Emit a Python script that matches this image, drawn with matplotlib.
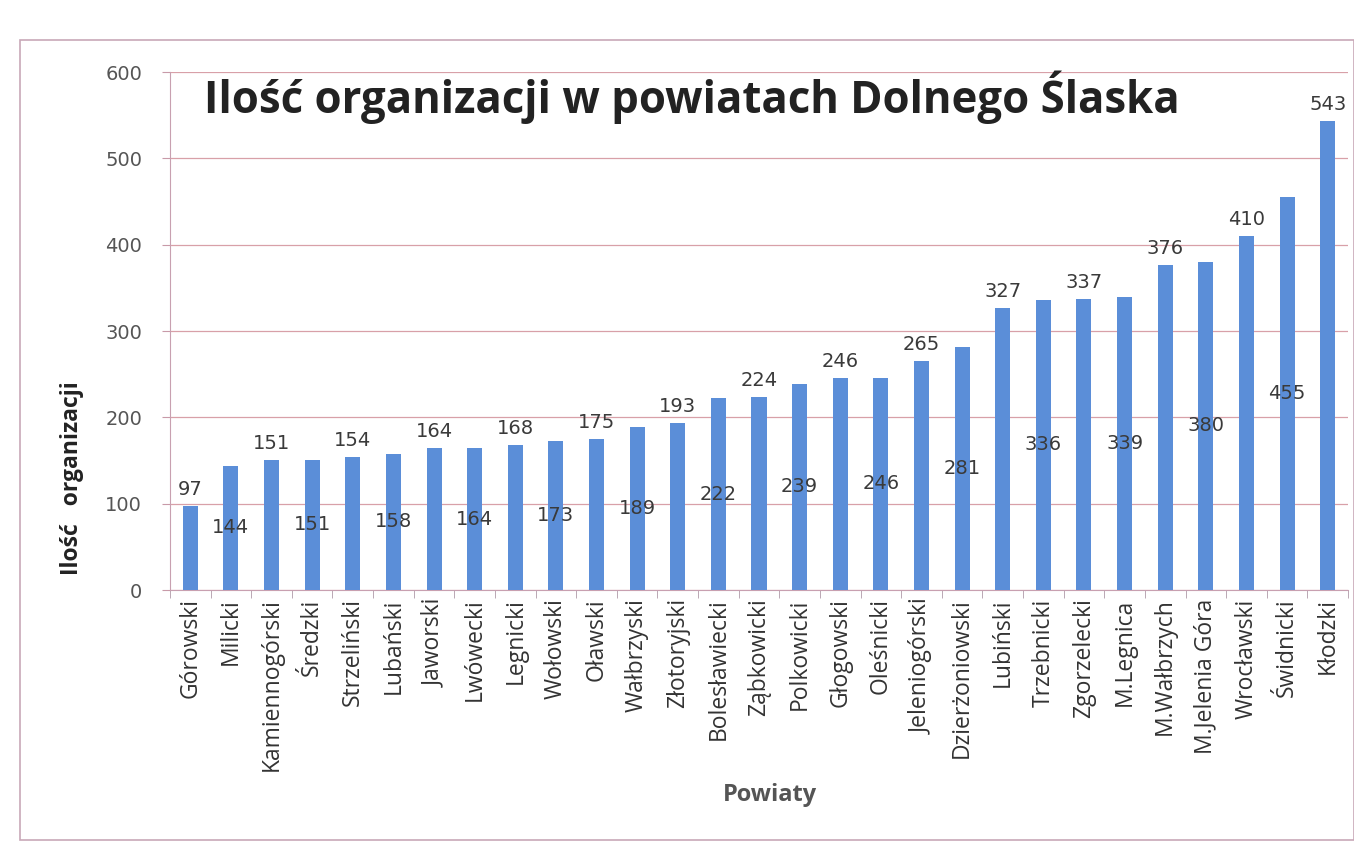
import matplotlib

matplotlib.use("Agg")
import matplotlib.pyplot as plt
from matplotlib.patches import Rectangle

powiaty = [
    "Górowski", "Milicki", "Kamiennogórski", "Średzki", "Strzeliński",
    "Lubański", "Jaworski", "Lwówecki", "Legnicki", "Wołowski", "Oławski",
    "Wałbrzyski", "Złotoryjski", "Bolesławiecki", "Ząbkowicki", "Polkowicki",
    "Głogowski", "Oleśnicki", "Jeleniogórski", "Dzierżoniowski", "Lubiński",
    "Trzebnicki", "Zgorzelecki", "M.Legnica", "M.Wałbrzych", "M.Jelenia Góra",
    "Wrocławski", "Świdnicki", "Kłodzki",
]
ilosc = [
    97, 144, 151, 151, 154, 158, 164, 164, 168, 173, 175, 189, 193, 222, 224,
    239, 246, 246, 265, 281, 327, 336, 337, 339, 376, 380, 410, 455, 543,
]
y_ticks = [0, 100, 200, 300, 400, 500, 600]

W, H = 1354, 847
fig = plt.figure(figsize=(W / 100, H / 100), dpi=100)
ax = fig.add_axes([170 / W, 1 - 590 / H, 1178 / W, 518 / H])

x = range(len(powiaty))
ax.bar(x, ilosc, width=0.37, color="#5b8ed8", zorder=3)

# labels alternate: above the bar, then in the middle of the next one
for i, v in enumerate(ilosc):
    if i % 2 == 0:
        ax.annotate(str(v), (i, v), xytext=(0, 5), textcoords="offset points",
                    ha="center", va="bottom", fontsize=14, color="#3a3a3a",
                    family="DejaVu Sans", zorder=4)
    else:
        ax.text(i, v / 2, str(v), ha="center", va="center", fontsize=14,
                color="#3a3a3a", family="DejaVu Sans", zorder=4)

ax.set_xlim(-0.5, len(powiaty) - 0.5)
ax.set_ylim(0, 600)
ax.set_yticks(y_ticks)
ax.set_yticklabels([str(t) for t in y_ticks], fontsize=14, color="#555555",
                   family="DejaVu Sans")
ax.set_xticks(list(x))
ax.set_xticklabels(powiaty, rotation=90, fontsize=16.5, color="#333333",
                   family="Open Sans")
ax.set_xticks([i + 0.5 for i in range(-1, len(powiaty))], minor=True)
ax.tick_params(axis="x", which="major", length=0, pad=6)
ax.tick_params(axis="x", which="minor", length=6, color="#b09aa8")
ax.tick_params(axis="y", length=6, color="#c89aa8", pad=14)

ax.grid(axis="y", color="#d8a0a8", lw=0.9, zorder=0)
for side in ("top", "right"):
    ax.spines[side].set_visible(False)
ax.spines["left"].set_color("#c8a0b0")
ax.spines["bottom"].set_color("#c8a0b0")

fig.text(692 / W, 1 - 97 / H, "Ilość organizacji w powiatach Dolnego Ślaska",
         ha="center", va="center", fontsize=31.5, fontweight="bold",
         family="Open Sans", color="#222222")
fig.text(72 / W, 1 - 478 / H, "Ilość   organizacji", rotation=90,
         ha="center", va="center", fontsize=16.5, fontweight="bold",
         family="Open Sans", color="#222222")
fig.text(770 / W, 1 - 795 / H, "Powiaty", ha="center", va="center",
         fontsize=17, fontweight="bold", family="Open Sans", color="#555555")

fig.patches.append(Rectangle((20 / W, 1 - 840 / H), (W - 20) / W, 800 / H,
                             transform=fig.transFigure, fill=False,
                             ec="#c8a8b8", lw=1.2))

fig.savefig("out.png", dpi=100)
